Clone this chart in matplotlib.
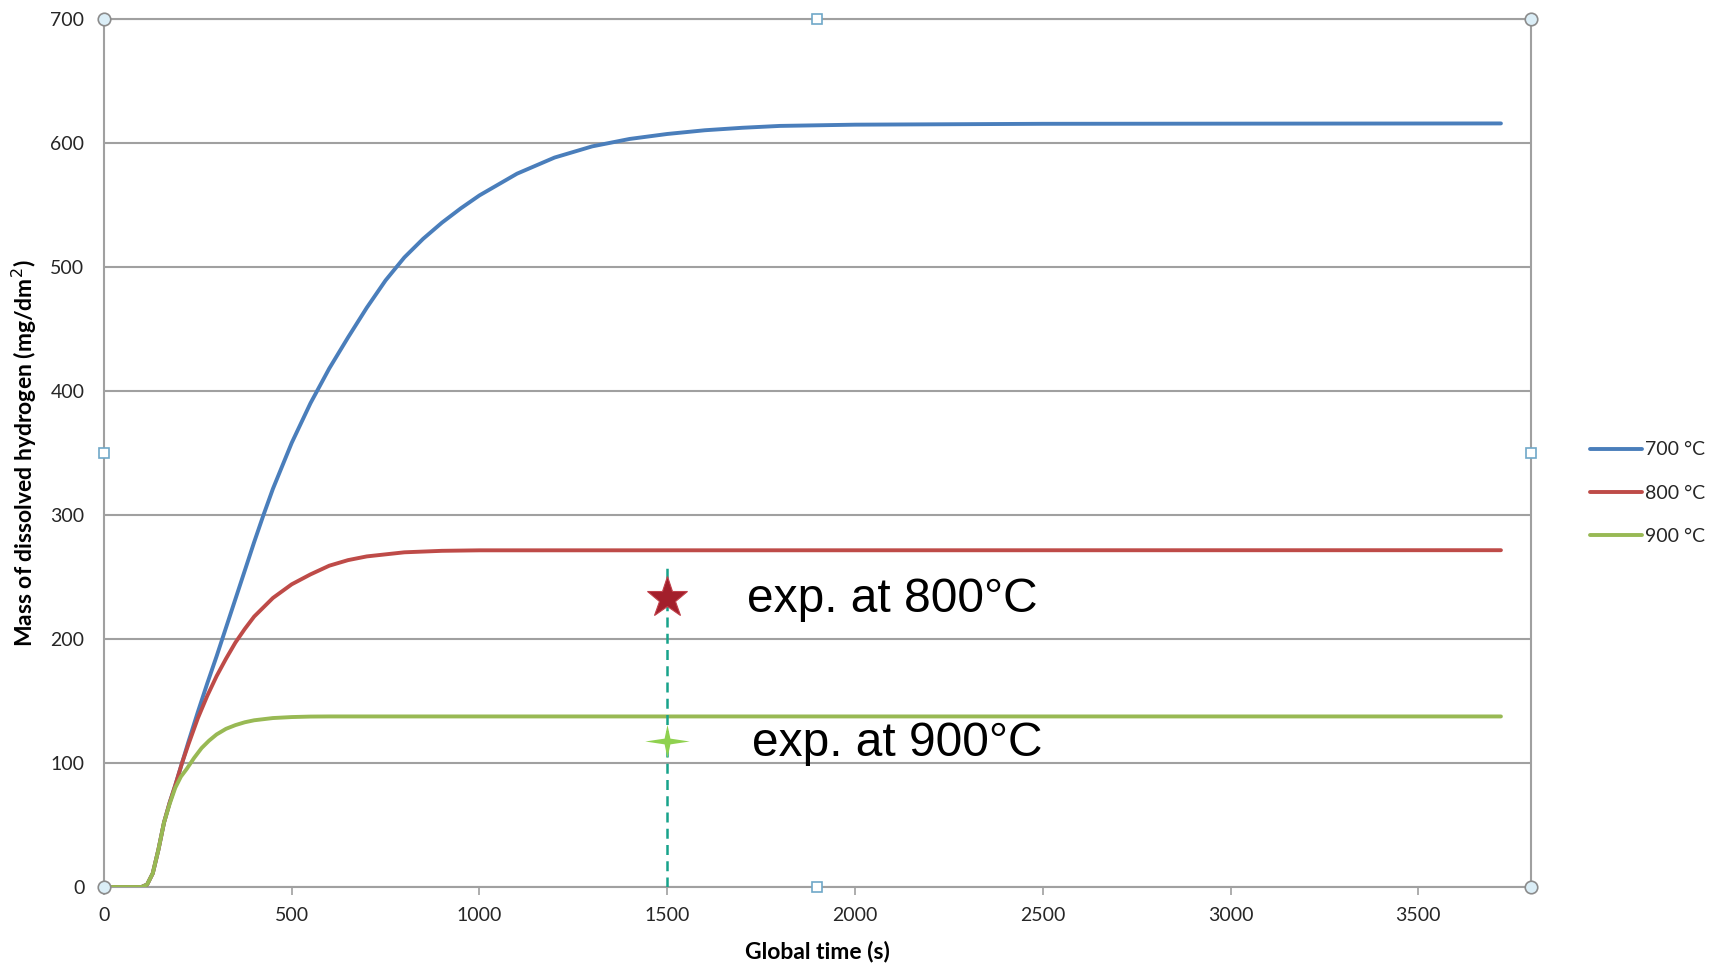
import numpy as np
import matplotlib.pyplot as plt

# simulated mass of dissolved hydrogen (mg/dm2) vs global time (s)
t_700 = [0, 100, 115, 130, 145, 160, 175, 190, 208, 225, 250, 275, 300, 350, 400, 425,
         450, 500, 550, 600, 650, 700, 750, 800, 850, 900, 950, 1000, 1100, 1200,
         1300, 1400, 1500, 1600, 1700, 1800, 2000, 2500, 3720]
m_700 = [0, 0, 2, 11, 30, 52, 68, 82, 100, 117, 141, 164, 186, 232, 278, 300,
         321, 358, 390, 418, 443, 467, 489, 507.5, 522.5, 535.5, 547, 557.5, 575, 588,
         597, 603, 607, 610, 612, 613.5, 614.5, 615.2, 615.5]

t_800 = [0, 100, 115, 130, 145, 160, 175, 190, 208, 225, 250, 275, 300, 325, 350,
         375, 400, 450, 500, 550, 600, 650, 700, 800, 900, 1000, 3720]
m_800 = [0, 0, 2, 11, 30, 52, 68, 82, 100, 115, 136, 154, 170, 184, 197,
         208, 218, 233, 244, 252, 259, 263.5, 266.5, 269.8, 271, 271.4, 271.5]

t_900 = [0, 100, 115, 130, 145, 160, 175, 190, 205, 220, 240, 260, 280, 300, 325,
         350, 375, 400, 450, 500, 550, 600, 3720]
m_900 = [0, 0, 2, 11, 30, 52, 67, 80, 89, 95, 104, 112, 118, 123, 127.5,
         130.5, 132.8, 134.4, 136.2, 137, 137.4, 137.5, 137.5]

labels = ['700 °C', '800 °C', '900 °C']
colors = ['#4a7ebb', '#be4b48', '#98b954']

# experimental points
exp_time = 1500
exp_800 = 233
exp_900 = 118
exp_line_top = 258

plt.rcParams['font.family'] = ['Lato', 'DejaVu Sans']

fig = plt.figure(figsize=(17.15, 9.69), dpi=100)
ax = fig.add_axes([0.0606, 0.0846, 0.8321, 0.8962])

lines = []
for t, m, c, lab in zip([t_700, t_800, t_900], [m_700, m_800, m_900], colors, labels):
    ln, = ax.plot(t, m, color=c, lw=2.8, label=lab, solid_capstyle='round',
                  solid_joinstyle='round', zorder=3)
    lines.append(ln)

ax.plot([exp_time, exp_time], [0, exp_line_top], color='#17a38b', lw=1.8,
        dashes=(4, 2.5), zorder=4)
ax.plot(exp_time, exp_800, marker='*', ms=31, color='#a31f2b',
        markeredgecolor='#c0404a', markeredgewidth=0.8, zorder=5)
star4 = [(0, 0.75), (0.13, 0.13), (1, 0), (0.13, -0.13), (0, -0.75),
         (-0.13, -0.13), (-1, 0), (-0.13, 0.13), (0, 0.75)]
ax.plot(exp_time, exp_900, marker=star4, ms=32, color='#8fd14f',
        markeredgewidth=0, zorder=5)

ax.text(1712, exp_800 - 1, 'exp. at 800°C', fontsize=34.5, family='Liberation Sans',
        va='center', ha='left', color='black')
ax.text(1727, exp_900 - 2, 'exp. at 900°C', fontsize=34.5, family='Liberation Sans',
        va='center', ha='left', color='black')

ax.set_xlim(0, 3800)
ax.set_ylim(0, 700)
ax.set_xticks(np.arange(0, 3501, 500))
ax.set_yticks(np.arange(0, 701, 100))
ax.yaxis.grid(True, color='#a0a0a0', lw=1.5)
ax.set_axisbelow(True)
for s in ax.spines.values():
    s.set_color('#a0a0a0')
    s.set_linewidth(1.5)
ax.tick_params(axis='y', length=0, pad=14, labelsize=14, labelcolor='#262626')
ax.tick_params(axis='x', length=5.5, width=1.2, color='#a0a0a0', pad=9,
               labelsize=14, labelcolor='#262626')

ax.set_xlabel('Global time (s)', fontsize=16.5, fontweight='bold', labelpad=12)
ax.set_ylabel('Mass of dissolved hydrogen (mg/dm$^2$)', fontsize=16.5,
              fontweight='bold', labelpad=8)

# chart selection handles
hx = [0, 0, 1, 1]
hy = [0, 1, 0, 1]
ax.plot(hx, hy, 'o', ms=9, mfc='#dbeef7', mec='#8c8c8c', mew=1.2,
        transform=ax.transAxes, clip_on=False, zorder=6)
sx = [0.5, 0.5, 0, 1]
sy = [0, 1, 0.5, 0.5]
ax.plot(sx, sy, 's', ms=7, mfc='white', mec='#6fa8c8', mew=1.2,
        transform=ax.transAxes, clip_on=False, zorder=6)

fig.legend(handles=lines, loc='center left', bbox_to_anchor=(1580 / 1715, 0.491),
           frameon=False, fontsize=14, handlelength=2.7, handletextpad=0.15,
           labelspacing=1.35, borderpad=0, labelcolor='#262626')

fig.savefig('out.png', dpi=100)
